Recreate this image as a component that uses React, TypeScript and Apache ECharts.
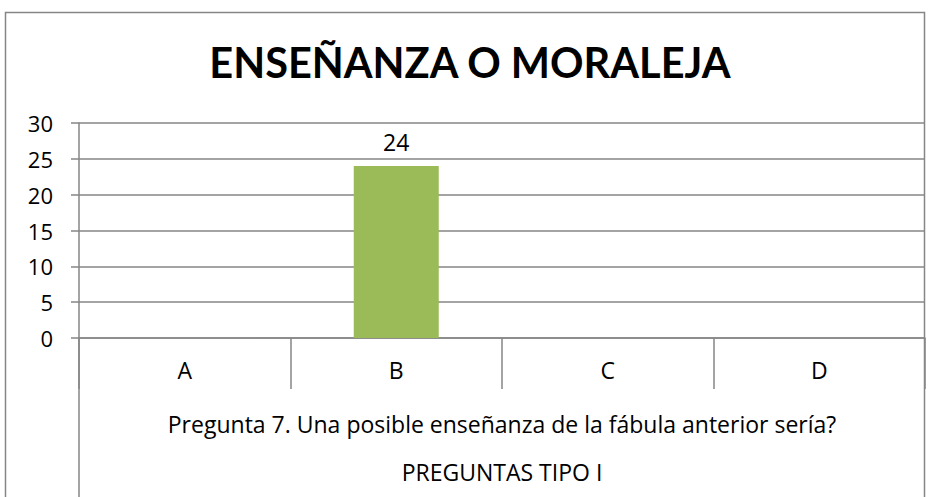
import React, { useEffect, useRef } from "react";
import * as echarts from "echarts";

const categories = ["A", "B", "C", "D"];
const values = [0, 24, 0, 0];
const yTicks = { min: 0, max: 30, interval: 5 };
const titleText = "ENSEÑANZA O MORALEJA";
const groupLabel = "Pregunta 7. Una posible enseñanza de la fábula anterior sería?";
const axisTitle = "PREGUNTAS TIPO I";

const FONT = "'Open Sans', Lato, sans-serif";
const TFONT = "Lato, 'Open Sans', sans-serif";
const GRAY = "#868686";

export default function App() {
  const ref = useRef<HTMLDivElement>(null);
  useEffect(() => {
    document.body.style.margin = "0";
    document.body.style.background = "#fff";
    const chart = echarts.init(ref.current!, null, { renderer: "svg" });
    chart.setOption({
      animation: false,
      backgroundColor: "#fff",
      textStyle: { fontFamily: FONT },
      title: {
        text: titleText,
        left: "center",
        top: 36,
        textStyle: { fontFamily: TFONT, fontSize: 41.5, fontWeight: "bold", color: "#000" },
      },
      grid: { left: 79, right: 15, top: 123, bottom: 159, containLabel: false },
      xAxis: {
        type: "category",
        data: categories,
        axisLine: { show: true, lineStyle: { color: GRAY, width: 1.5 } },
        axisTick: { show: true, length: 51, interval: 0, lineStyle: { color: GRAY, width: 1.5 } },
        axisLabel: { fontSize: 23, color: "#000", margin: 20, fontFamily: FONT },
      },
      yAxis: {
        type: "value",
        min: yTicks.min,
        max: yTicks.max,
        interval: yTicks.interval,
        axisLine: { show: true, lineStyle: { color: GRAY, width: 1.5 } },
        axisTick: { show: true, length: 8, lineStyle: { color: GRAY, width: 1.5 } },
        axisLabel: { fontSize: 22, color: "#000", margin: 26, fontFamily: FONT },
        splitLine: { show: true, lineStyle: { color: GRAY, width: 1.5 } },
      },
      series: [
        {
          type: "bar",
          data: values.map((v) => (v === 0 ? null : v)),
          barWidth: 85,
          itemStyle: { color: "#9BBB59" },
          label: { show: true, position: "top", fontSize: 23, color: "#000", distance: 13, fontFamily: FONT },
        },
      ],
      graphic: [
        {
          type: "rect",
          shape: { x: 5.5, y: 12.5, width: 919, height: 520 },
          style: { fill: "none", stroke: GRAY, lineWidth: 1.5 },
          z: -1,
        },
        {
          type: "line",
          shape: { x1: 79, y1: 338, x2: 79, y2: 500 },
          style: { stroke: GRAY, lineWidth: 1.5 },
        },
        {
          type: "text",
          x: 502,
          y: 424,
          style: { text: groupLabel, fontSize: 23, fill: "#000", fontFamily: FONT, align: "center", verticalAlign: "middle" },
        },
        {
          type: "text",
          x: 502,
          y: 472,
          style: { text: axisTitle, fontSize: 23, fill: "#000", fontFamily: FONT, align: "center", verticalAlign: "middle" },
        },
      ],
    });
    return () => chart.dispose();
  }, []);
  return <div ref={ref} style={{ position: "fixed", left: 0, top: 0, width: 940, height: 497 }} />;
}
